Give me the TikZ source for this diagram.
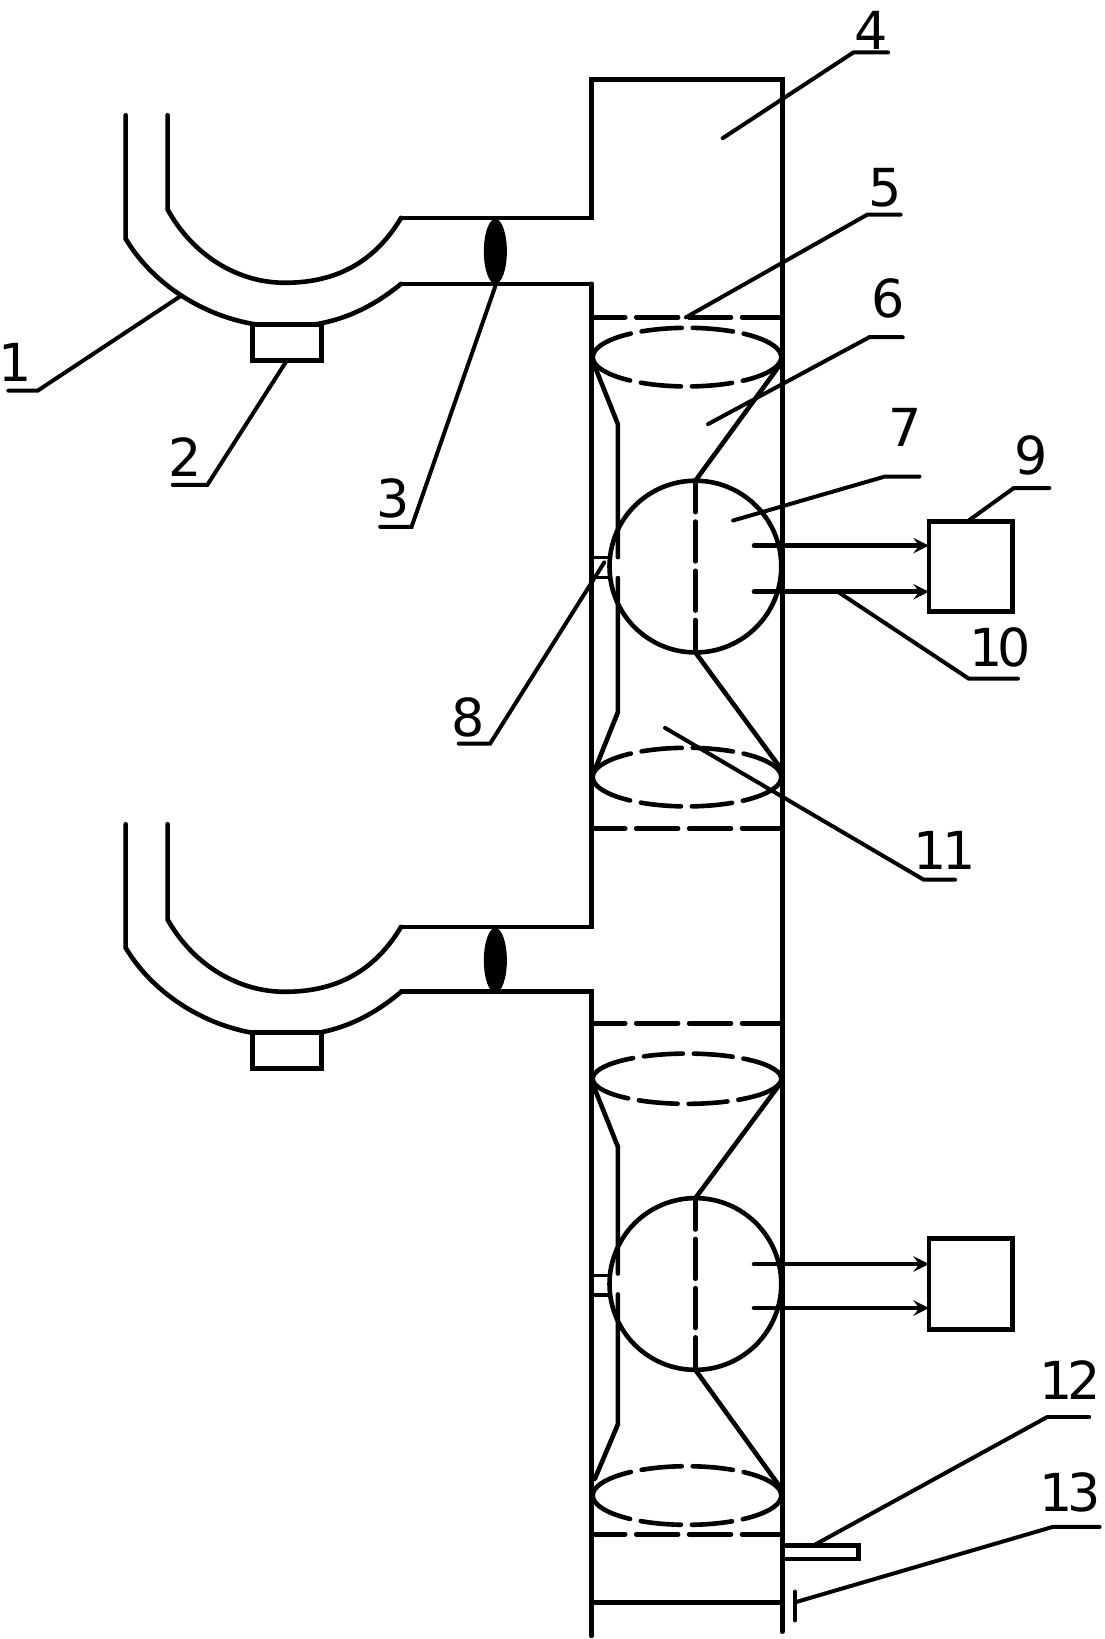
\documentclass[tikz,border=0pt]{standalone}
\usepackage{fontspec}
\setmainfont{DejaVu Sans}
\usetikzlibrary{shapes.geometric, arrows, positioning}

\begin{document}
\begin{tikzpicture}[
    x=0.5pt, y=-0.5pt,
    line width=2.2pt,
    line cap=round,
    wall/.style={line width=2.2pt},
    box/.style={draw, rectangle, inner sep=0pt, outer sep=0pt, line width=2.2pt, line cap=butt},
    ball/.style={draw, circle, minimum size=82pt, inner sep=0pt, outer sep=0pt},
    cone/.style={draw, ellipse, minimum width=90pt, inner sep=0pt, outer sep=0pt, dash pattern=on 44.75pt off 5.25pt on 19.25pt off 5.25pt on 19.25pt off 5.25pt, dash phase=22.4pt},
    flatcone/.style={cone, dash pattern=on 43pt off 5.25pt on 18.6pt off 5.25pt on 18.6pt off 5.25pt, dash phase=21.5pt},
    hidden/.style={dash pattern=on 20pt off 5.25pt, dash phase=4pt},
    axis/.style={dash pattern=on 19pt off 4.5pt, dash phase=4pt},
    leader/.style={line width=1.9pt},
    tag/.style={font=\fontsize{25}{25}\selectfont, inner sep=0pt},
    arrow/.style={->, >=stealth},
]
\useasboundingbox (0,0) rectangle (1055,1565);

% Tower walls
\draw[wall] (565,1562) -- (565,947) -- (383,947);
\draw[wall] (565,271) -- (565,885) -- (383,885);
\draw[wall] (383,271) -- (565,271);
\draw[wall] (383,208) -- (565,208) -- (565,76) -- (747,76) -- (747,1558);

% Upper bend
\draw[wall] (120,110) -- (120,228) .. controls (150,278) and (210,312) .. (272,312) .. controls (315,312) and (350,298) .. (383,271);
\draw[wall] (160,110) -- (160,200) .. controls (185,245) and (228,270) .. (272,270) .. controls (315,270) and (355,255) .. (383,208);
\node[box, fill=white, minimum width=33pt, minimum height=17pt] (sensorA) at (274,327) {};
\node[ellipse, fill=black, minimum width=11pt, minimum height=31pt, inner sep=0pt] (valveA) at (473,240) {};

% Lower bend
\draw[wall] (120,787) -- (120,905) .. controls (150,955) and (210,989) .. (272,989) .. controls (315,989) and (350,975) .. (383,947);
\draw[wall] (160,787) -- (160,878) .. controls (185,922) and (228,947) .. (272,947) .. controls (315,947) and (355,932) .. (383,885);
\node[box, fill=white, minimum width=33pt, minimum height=17pt] (sensorB) at (274,1003) {};
\node[ellipse, fill=black, minimum width=11pt, minimum height=31pt, inner sep=0pt] (valveB) at (473,917) {};

% Upper unit
\draw[hidden] (565,303) -- (747,303);
\draw[hidden] (565,791) -- (747,791);
\node[cone, minimum height=28pt] (coneA) at (656,341) {};
\node[cone, minimum height=28pt] (coneB) at (656,742) {};
\node[ball] (ballA) at (664,541) {};
\draw[axis] (ballA.north) -- (ballA.south);
\draw (568,350) -- (590,405) -- (590,532);
\draw (590,552) -- (590,680) -- (568,735);
\draw (ballA.north) -- (745,348);
\draw (ballA.south) -- (745,733);
\node[box, line width=1.5pt, minimum width=8pt, minimum height=9.5pt] (motorA) at (574,542) {};
\node[box, minimum width=40pt, minimum height=43pt] (ctrlA) at (927,541) {};
\coordinate (feedA) at (720,521);
\coordinate (feedB) at (720,565);
\draw[arrow] (feedA) -- (feedA -| ctrlA.west);
\draw[arrow] (feedB) -- (feedB -| ctrlA.west);

% Lower unit
\draw[hidden] (565,977) -- (747,977);
\draw[hidden] (565,1465) -- (747,1465);
\node[flatcone, minimum height=24pt] (coneC) at (656,1030) {};
\node[cone, minimum height=28pt] (coneD) at (656,1428) {};
\node[ball] (ballB) at (664,1226) {};
\draw[axis] (ballB.north) -- (ballB.south);
\draw (568,1040) -- (590,1095) -- (590,1216);
\draw (590,1236) -- (590,1360) -- (568,1412);
\draw (ballB.north) -- (747,1032);
\draw (ballB.south) -- (745,1420);
\node[box, line width=1.5pt, minimum width=8pt, minimum height=9.5pt] (motorB) at (574,1227) {};
\node[box, minimum width=40pt, minimum height=43.5pt] (ctrlB) at (927,1226) {};
\coordinate (feedC) at (720,1207);
\coordinate (feedD) at (720,1249);
\draw[arrow] (feedC) -- (feedC -| ctrlB.west);
\draw[arrow] (feedD) -- (feedD -| ctrlB.west);

% Bottom parts
\draw (565,1530) -- (747,1530);
\node[box, minimum width=36.5pt, minimum height=6.5pt] (gauge) at (783.5,1482) {};
\draw (759,1520) coordinate (drainT) -- (759,1547);

% Labels
\node[tag] (n1) at (14,346) {1};
\node[tag] (n2) at (177,436) {2};
\node[tag] (n3) at (375,476) {3};
\node[tag] (n4) at (832,29) {4};
\node[tag] (n5) at (845,179) {5};
\node[tag] (n6) at (848,285) {6};
\node[tag] (n7) at (864,408) {7};
\node[tag] (n8) at (447,685) {8};
\node[tag] (n9) at (985,435) {9};
\node[tag] (n10) at (955,618) {1\kern-2.5pt 0};
\node[tag] (n11) at (902,812) {1\kern-2.5pt 1};
\node[tag] (n12) at (1022,1318) {1\kern-2.5pt 2};
\node[tag] (n13) at (1022,1425) {1\kern-2.5pt 3};

% Leaders
\draw[leader] (172,283) -- (36,373) -- (8,373);
\draw[leader] (sensorA.south) -- (198,463) -- (165,463);
\draw[leader] (valveA.south) -- (393,503) -- (363,503);
\draw[leader] (690,132) -- (815,50) -- (848,50);
\draw[leader] (655,303) -- (828,205) -- (860,205);
\draw[leader] (676,405) -- (830,322) -- (862,322);
\draw[leader] (700,497) -- (845,455) -- (878,455);
\draw[leader] (577,537) -- (468,710) -- (438,710);
\draw[leader] (925,497) -- (968,466) -- (1002,466);
\draw[leader] (800,565) -- (925,648) -- (972,648);
\draw[leader] (635,695) -- (882,840) -- (912,840);
\draw[leader] (778,1475) -- (1000,1353) -- (1040,1353);
\draw[leader] (drainT) ++(0,10) -- (1005,1458) -- (1050,1458);

\end{tikzpicture}
\end{document}
